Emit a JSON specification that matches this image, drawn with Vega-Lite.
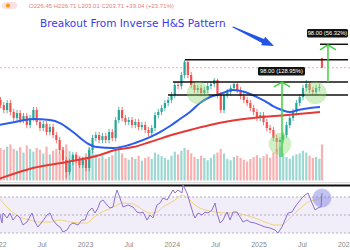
{
"$schema":"https://vega.github.io/schema/vega-lite/v6.json",
"width":350,"height":237,
"autosize":{"type":"none"},
"padding":{"left":0,"top":0,"right":0,"bottom":13},
"background":"white",
"config":{"view":{"stroke":null},
 "axisX":{"labelExpr":"datum.value % 1 == 0 ? format(datum.value, 'd') : 'Jul'","grid":false,"ticks":false,"domain":false,"labelFont":"Liberation Sans","labelFontSize":7,"labelColor":"#8a8a8a","labelPadding":3,"labelFlush":false,"labelOverlap":false,"labelBound":false,"tickCount":8}},
"datasets":{
"candles":[
{"t":2022.026,"o":142.6,"h":147.6,"l":130.2,"c":134.9,"v":72},
{"t":2022.064,"o":134.9,"h":139.6,"l":123.2,"c":127.7,"v":68},
{"t":2022.102,"o":127.7,"h":142.8,"l":123.2,"c":138.0,"v":75},
{"t":2022.140,"o":138.0,"h":142.8,"l":120.5,"c":124.9,"v":80},
{"t":2022.178,"o":124.9,"h":129.3,"l":112.8,"c":116.9,"v":70},
{"t":2022.216,"o":116.9,"h":127.8,"l":112.8,"c":123.5,"v":66},
{"t":2022.253,"o":123.5,"h":127.8,"l":110.3,"c":114.3,"v":74},
{"t":2022.291,"o":114.3,"h":123.7,"l":110.3,"c":119.5,"v":62},
{"t":2022.329,"o":119.5,"h":123.7,"l":104.4,"c":108.2,"v":78},
{"t":2022.367,"o":108.2,"h":121.0,"l":104.4,"c":116.9,"v":70},
{"t":2022.405,"o":116.9,"h":132.0,"l":112.8,"c":127.7,"v":64},
{"t":2022.443,"o":127.7,"h":132.2,"l":107.9,"c":111.8,"v":72},
{"t":2022.481,"o":111.8,"h":115.7,"l":101.0,"c":104.7,"v":68},
{"t":2022.519,"o":104.7,"h":113.2,"l":101.0,"c":109.4,"v":60},
{"t":2022.557,"o":109.4,"h":113.2,"l":96.6,"c":100.1,"v":75},
{"t":2022.595,"o":100.1,"h":109.5,"l":96.6,"c":105.8,"v":58},
{"t":2022.632,"o":105.8,"h":109.5,"l":93.5,"c":96.9,"v":66},
{"t":2022.670,"o":96.9,"h":100.3,"l":88.5,"c":91.7,"v":70},
{"t":2022.708,"o":91.7,"h":94.9,"l":79.2,"c":82.1,"v":62},
{"t":2022.746,"o":82.1,"h":85.0,"l":70.9,"c":73.5,"v":74},
{"t":2022.784,"o":73.5,"h":76.1,"l":60.2,"c":64.4,"v":80},
{"t":2022.822,"o":64.4,"h":74.4,"l":62.1,"c":71.9,"v":65},
{"t":2022.860,"o":71.9,"h":80.4,"l":69.4,"c":77.7,"v":58},
{"t":2022.898,"o":77.7,"h":80.4,"l":70.9,"c":73.5,"v":60},
{"t":2022.936,"o":73.5,"h":76.1,"l":67.2,"c":69.6,"v":55},
{"t":2022.974,"o":69.6,"h":76.1,"l":67.2,"c":73.5,"v":52},
{"t":2023.011,"o":73.5,"h":76.1,"l":64.9,"c":67.3,"v":60},
{"t":2023.049,"o":67.3,"h":85.0,"l":64.9,"c":82.1,"v":72},
{"t":2023.087,"o":82.1,"h":97.0,"l":79.2,"c":93.7,"v":66},
{"t":2023.125,"o":93.7,"h":100.3,"l":90.4,"c":96.9,"v":58},
{"t":2023.163,"o":96.9,"h":100.3,"l":88.5,"c":91.7,"v":50},
{"t":2023.201,"o":91.7,"h":99.2,"l":88.5,"c":95.8,"v":55},
{"t":2023.239,"o":95.8,"h":99.2,"l":88.5,"c":91.7,"v":48},
{"t":2023.277,"o":91.7,"h":103.6,"l":88.5,"c":100.1,"v":52},
{"t":2023.315,"o":100.1,"h":103.6,"l":90.4,"c":93.7,"v":56},
{"t":2023.353,"o":93.7,"h":118.3,"l":90.4,"c":114.3,"v":70},
{"t":2023.390,"o":114.3,"h":132.2,"l":110.3,"c":127.7,"v":75},
{"t":2023.428,"o":127.7,"h":132.2,"l":112.8,"c":116.9,"v":60},
{"t":2023.466,"o":116.9,"h":121.0,"l":107.9,"c":111.8,"v":50},
{"t":2023.504,"o":111.8,"h":118.3,"l":107.9,"c":114.3,"v":46},
{"t":2023.542,"o":114.3,"h":118.3,"l":104.4,"c":108.2,"v":52},
{"t":2023.580,"o":108.2,"h":115.7,"l":104.4,"c":111.8,"v":48},
{"t":2023.618,"o":111.8,"h":115.7,"l":102.1,"c":105.8,"v":55},
{"t":2023.656,"o":105.8,"h":112.0,"l":102.1,"c":108.2,"v":44},
{"t":2023.694,"o":108.2,"h":112.0,"l":98.8,"c":102.4,"v":50},
{"t":2023.732,"o":102.4,"h":106.0,"l":95.5,"c":99.0,"v":53},
{"t":2023.769,"o":99.0,"h":108.4,"l":95.5,"c":104.7,"v":48},
{"t":2023.807,"o":104.7,"h":125.0,"l":101.0,"c":120.8,"v":62},
{"t":2023.845,"o":120.8,"h":129.3,"l":116.6,"c":124.9,"v":58},
{"t":2023.883,"o":124.9,"h":135.2,"l":120.5,"c":130.6,"v":54},
{"t":2023.921,"o":130.6,"h":142.8,"l":126.0,"c":138.0,"v":50},
{"t":2023.959,"o":138.0,"h":147.6,"l":133.2,"c":142.6,"v":46},
{"t":2023.997,"o":142.6,"h":156.0,"l":137.6,"c":150.7,"v":55},
{"t":2024.035,"o":150.7,"h":174.2,"l":145.4,"c":168.3,"v":64},
{"t":2024.073,"o":168.3,"h":174.2,"l":160.7,"c":166.5,"v":58},
{"t":2024.111,"o":166.5,"h":194.6,"l":160.7,"c":188.0,"v":66},
{"t":2024.148,"o":188.0,"h":221.9,"l":181.4,"c":217.0,"v":72},
{"t":2024.186,"o":217.0,"h":220.0,"l":181.4,"c":188.0,"v":68},
{"t":2024.224,"o":188.0,"h":194.6,"l":162.4,"c":168.3,"v":60},
{"t":2024.262,"o":168.3,"h":174.2,"l":153.7,"c":159.3,"v":52},
{"t":2024.300,"o":159.3,"h":168.6,"l":153.7,"c":162.9,"v":48},
{"t":2024.338,"o":162.9,"h":168.6,"l":148.7,"c":154.1,"v":55},
{"t":2024.376,"o":154.1,"h":164.9,"l":148.7,"c":159.3,"v":50},
{"t":2024.414,"o":159.3,"h":172.3,"l":153.7,"c":166.5,"v":45},
{"t":2024.452,"o":166.5,"h":176.2,"l":160.7,"c":170.2,"v":50},
{"t":2024.490,"o":170.2,"h":181.9,"l":164.2,"c":177.9,"v":58},
{"t":2024.527,"o":177.9,"h":181.0,"l":145.4,"c":150.7,"v":62},
{"t":2024.565,"o":150.7,"h":156.0,"l":123.5,"c":127.7,"v":70},
{"t":2024.603,"o":127.7,"h":156.0,"l":123.2,"c":150.7,"v":60},
{"t":2024.641,"o":150.7,"h":161.3,"l":145.4,"c":155.8,"v":48},
{"t":2024.679,"o":155.8,"h":168.6,"l":150.3,"c":162.9,"v":45},
{"t":2024.717,"o":162.9,"h":174.0,"l":157.2,"c":170.2,"v":52},
{"t":2024.755,"o":170.2,"h":174.0,"l":153.7,"c":159.3,"v":55},
{"t":2024.793,"o":159.3,"h":164.9,"l":143.8,"c":149.0,"v":50},
{"t":2024.831,"o":149.0,"h":154.2,"l":137.6,"c":142.6,"v":46},
{"t":2024.869,"o":142.6,"h":147.6,"l":133.2,"c":138.0,"v":42},
{"t":2024.906,"o":138.0,"h":142.8,"l":126.0,"c":130.6,"v":48},
{"t":2024.944,"o":130.6,"h":135.2,"l":120.5,"c":124.9,"v":52},
{"t":2024.982,"o":124.9,"h":129.3,"l":112.8,"c":116.9,"v":56},
{"t":2025.020,"o":116.9,"h":125.0,"l":112.8,"c":120.8,"v":50},
{"t":2025.058,"o":120.8,"h":125.0,"l":107.9,"c":111.8,"v":54},
{"t":2025.096,"o":111.8,"h":115.7,"l":101.0,"c":104.7,"v":58},
{"t":2025.134,"o":104.7,"h":108.4,"l":98.8,"c":102.4,"v":50},
{"t":2025.172,"o":102.4,"h":106.0,"l":90.4,"c":93.7,"v":62},
{"t":2025.210,"o":93.7,"h":97.0,"l":80.0,"c":89.7,"v":70},
{"t":2025.248,"o":89.7,"h":94.9,"l":76.0,"c":91.7,"v":75},
{"t":2025.285,"o":91.7,"h":100.3,"l":88.5,"c":96.9,"v":60},
{"t":2025.323,"o":96.9,"h":112.0,"l":93.5,"c":108.2,"v":52},
{"t":2025.361,"o":108.2,"h":121.0,"l":104.4,"c":116.9,"v":48},
{"t":2025.399,"o":116.9,"h":129.3,"l":112.8,"c":124.9,"v":55},
{"t":2025.437,"o":124.9,"h":142.8,"l":120.5,"c":138.0,"v":58},
{"t":2025.475,"o":138.0,"h":152.6,"l":133.2,"c":147.4,"v":60},
{"t":2025.513,"o":147.4,"h":168.6,"l":142.2,"c":162.9,"v":66},
{"t":2025.551,"o":162.9,"h":177.9,"l":157.2,"c":170.2,"v":62},
{"t":2025.589,"o":170.2,"h":174.0,"l":153.7,"c":159.3,"v":55},
{"t":2025.627,"o":159.3,"h":164.9,"l":150.3,"c":155.8,"v":50},
{"t":2025.664,"o":155.8,"h":168.6,"l":150.3,"c":162.9,"v":52},
{"t":2025.702,"o":162.9,"h":170.4,"l":157.2,"c":164.67,"v":48},
{"t":2025.732,"o":226.45,"h":226.71,"l":203.01,"c":203.71,"v":80}
],
"ma50":[{"t":2022.0,"p":108.2},{"t":2022.193,"p":111.8},{"t":2022.401,"p":115.6},{"t":2022.597,"p":114.3},{"t":2022.712,"p":110.6},{"t":2022.862,"p":100.1},{"t":2023.023,"p":88.7},{"t":2023.138,"p":84.8},{"t":2023.323,"p":83.9},{"t":2023.461,"p":85.7},{"t":2023.576,"p":88.7},{"t":2023.749,"p":94.7},{"t":2023.865,"p":100.1},{"t":2023.980,"p":107.0},{"t":2024.095,"p":115.6},{"t":2024.210,"p":124.9},{"t":2024.326,"p":138.0},{"t":2024.441,"p":147.4},{"t":2024.556,"p":152.4},{"t":2024.706,"p":159.3},{"t":2024.844,"p":155.8},{"t":2024.983,"p":147.4},{"t":2025.075,"p":141.0},{"t":2025.167,"p":133.4},{"t":2025.271,"p":127.7},{"t":2025.363,"p":124.9},{"t":2025.455,"p":127.7},{"t":2025.594,"p":130.6},{"t":2025.709,"p":132.0}],
"ma200":[{"t":2022.0,"p":59.5},{"t":2022.401,"p":67.3},{"t":2022.792,"p":71.9},{"t":2023.173,"p":77.7},{"t":2023.346,"p":82.1},{"t":2023.553,"p":84.8},{"t":2023.749,"p":89.7},{"t":2024.038,"p":97.9},{"t":2024.210,"p":102.4},{"t":2024.441,"p":108.2},{"t":2024.672,"p":113.0},{"t":2024.937,"p":116.9},{"t":2025.329,"p":120.8},{"t":2025.709,"p":124.9}],
"rsi":[{"t":2022.0,"r":57.8},{"t":2022.043,"r":41.1},{"t":2022.055,"r":52.2},{"t":2022.101,"r":46.7},{"t":2022.135,"r":52.2},{"t":2022.170,"r":44.4},{"t":2022.216,"r":50},{"t":2022.251,"r":46.7},{"t":2022.285,"r":38.9},{"t":2022.331,"r":42.2},{"t":2022.389,"r":52.2},{"t":2022.424,"r":42.2},{"t":2022.458,"r":36.7},{"t":2022.504,"r":42.2},{"t":2022.562,"r":50},{"t":2022.597,"r":52.2},{"t":2022.631,"r":44.4},{"t":2022.677,"r":38.9},{"t":2022.712,"r":36.7},{"t":2022.746,"r":31.1},{"t":2022.792,"r":33.3},{"t":2022.827,"r":38.9},{"t":2022.862,"r":41.1},{"t":2022.919,"r":38.9},{"t":2022.965,"r":44.4},{"t":2023.000,"r":44.4},{"t":2023.035,"r":53.3},{"t":2023.081,"r":57.8},{"t":2023.115,"r":52.2},{"t":2023.150,"r":57.8},{"t":2023.173,"r":64.4},{"t":2023.207,"r":66.7},{"t":2023.254,"r":61.1},{"t":2023.288,"r":57.8},{"t":2023.323,"r":58.9},{"t":2023.346,"r":70},{"t":2023.369,"r":77.8},{"t":2023.403,"r":68.9},{"t":2023.438,"r":58.9},{"t":2023.496,"r":61.1},{"t":2023.553,"r":58.9},{"t":2023.599,"r":53.3},{"t":2023.634,"r":52.2},{"t":2023.669,"r":53.3},{"t":2023.715,"r":44.4},{"t":2023.750,"r":50},{"t":2023.784,"r":46.7},{"t":2023.830,"r":61.1},{"t":2023.865,"r":63.3},{"t":2023.899,"r":68.9},{"t":2023.946,"r":66.7},{"t":2023.980,"r":72.2},{"t":2024.015,"r":77.8},{"t":2024.038,"r":74.4},{"t":2024.072,"r":77.8},{"t":2024.118,"r":74.4},{"t":2024.130,"r":83.3},{"t":2024.176,"r":74.4},{"t":2024.210,"r":63.3},{"t":2024.245,"r":52.2},{"t":2024.268,"r":46.7},{"t":2024.303,"r":52.2},{"t":2024.349,"r":50},{"t":2024.384,"r":53.3},{"t":2024.418,"r":52.2},{"t":2024.464,"r":55.6},{"t":2024.499,"r":63.3},{"t":2024.522,"r":52.2},{"t":2024.557,"r":41.1},{"t":2024.591,"r":44.4},{"t":2024.637,"r":53.3},{"t":2024.672,"r":44.4},{"t":2024.706,"r":53.3},{"t":2024.752,"r":53.3},{"t":2024.787,"r":47.8},{"t":2024.821,"r":42.2},{"t":2024.867,"r":44.4},{"t":2024.902,"r":42.2},{"t":2024.959,"r":41.1},{"t":2025.017,"r":38.9},{"t":2025.074,"r":36.7},{"t":2025.132,"r":35.6},{"t":2025.190,"r":33.3},{"t":2025.225,"r":30},{"t":2025.271,"r":36.7},{"t":2025.305,"r":44.4},{"t":2025.340,"r":52.2},{"t":2025.386,"r":53.3},{"t":2025.421,"r":58.9},{"t":2025.455,"r":63.3},{"t":2025.501,"r":68.9},{"t":2025.536,"r":72.2},{"t":2025.571,"r":74.4},{"t":2025.617,"r":63.3},{"t":2025.652,"r":55.6},{"t":2025.686,"r":57.8},{"t":2025.709,"r":58.9},{"t":2025.721,"r":58.9},{"t":2025.732,"r":74.4}],
"rsima":[{"t":2022.0,"r":70},{"t":2022.135,"r":55.6},{"t":2022.251,"r":47.8},{"t":2022.366,"r":44.4},{"t":2022.481,"r":42.2},{"t":2022.597,"r":42.2},{"t":2022.712,"r":44.4},{"t":2022.827,"r":42.2},{"t":2022.942,"r":41.1},{"t":2023.023,"r":41.1},{"t":2023.092,"r":46.7},{"t":2023.173,"r":52.2},{"t":2023.254,"r":55.6},{"t":2023.323,"r":58.9},{"t":2023.438,"r":63.3},{"t":2023.553,"r":62.2},{"t":2023.669,"r":55.6},{"t":2023.750,"r":52.2},{"t":2023.830,"r":53.3},{"t":2023.899,"r":58.9},{"t":2023.980,"r":63.3},{"t":2024.038,"r":66.7},{"t":2024.118,"r":72.2},{"t":2024.187,"r":68.9},{"t":2024.268,"r":61.1},{"t":2024.384,"r":55.6},{"t":2024.499,"r":53.3},{"t":2024.614,"r":52.2},{"t":2024.729,"r":52.2},{"t":2024.844,"r":50},{"t":2024.959,"r":46.7},{"t":2025.074,"r":42.2},{"t":2025.190,"r":38.9},{"t":2025.271,"r":38.9},{"t":2025.340,"r":44.4},{"t":2025.421,"r":52.2},{"t":2025.501,"r":58.9},{"t":2025.571,"r":64.4},{"t":2025.652,"r":66.7},{"t":2025.732,"r":68.9}],
"levels":[{"t":2024.153,"t2":2026.032,"p":222.5},{"t":2024.014,"t2":2026.032,"p":174},{"t":2023.957,"t2":2026.032,"p":150.7},{"t":2025.709,"t2":2026.032,"p":264}],
"arrows":[{"t":2025.271,"p":76.0,"p2":174},{"t":2025.801,"p":174,"p2":262}],
"boxes":[{"t":2024.994,"t2":2025.536,"p":187.0,"p2":205.4,"tc":2025.265,"pc":196.2,"label":"98.00 (128.95%)"},{"t":2025.559,"t2":2026.032,"p":284.5,"p2":312.6,"tc":2025.795,"pc":298.2,"label":"98.00 (56.32%)"}],
"circles":[{"t":2024.303,"p":154.1},{"t":2025.657,"p":154.1},{"t":2025.248,"p":87.7}],
"bluearrow":[{"t":2024.706,"p":319.5,"w":0},{"t":2024.879,"p":295.7,"w":1},{"t":2025.052,"p":273.7,"w":2}]
},
"layer":[
{"data":{"values":[{"t":2022,"t2":2026.055,"r":70,"r2":30}]},
 "mark":{"type":"rect","color":"#7e57c2","opacity":0.1},
 "encoding":{
  "x":{"field":"t","type":"quantitative","title":null,"scale":{"domain":[2022,2026.055],"range":[-1.75,350],"nice":false,"zero":false}},
  "x2":{"field":"t2"},
  "y":{"field":"r","type":"quantitative","scale":{"domain":[25.56,288.9],"nice":false,"zero":false},"axis":null},
  "y2":{"field":"r2"}}},
{"data":{"values":[{"r":70},{"r":50},{"r":30}]},
 "mark":{"type":"rule","color":"#b3abc9","strokeWidth":1,"strokeDash":[2,2]},
 "encoding":{"y":{"field":"r","type":"quantitative","scale":{"domain":[25.56,288.9],"nice":false,"zero":false},"axis":null}}},
{"data":{"values":[{"r":85.9}]},
 "mark":{"type":"rule","color":"#d6d6d6","strokeWidth":1},
 "encoding":{"y":{"field":"r","type":"quantitative","scale":{"domain":[25.56,288.9],"nice":false,"zero":false},"axis":null}}},
{"data":{"values":[{"r":82.78}]},
 "mark":{"type":"rule","color":"#111111","strokeWidth":2},
 "encoding":{"y":{"field":"r","type":"quantitative","scale":{"domain":[25.56,288.9],"nice":false,"zero":false},"axis":null}}},
{"data":{"values":[{"p":203.71}]},
 "mark":{"type":"rule","color":"#eab0b0","strokeWidth":1,"strokeDash":[2,2]},
 "encoding":{"y":{"field":"p","type":"quantitative","scale":{"type":"log","domain":[31.4,430.6],"nice":false},"axis":null}}},
{"data":{"name":"candles"},
 "mark":{"type":"rule","strokeWidth":2.2,"opacity":0.45},
 "encoding":{
  "x":{"field":"t","type":"quantitative","title":null,"scale":{"domain":[2022,2026.055],"range":[-1.75,350],"nice":false,"zero":false}},
  "y":{"field":"v","type":"quantitative","scale":{"domain":[-125.3,400.2],"nice":false,"zero":false},"axis":null},
  "y2":{"datum":0},
  "color":{"condition":{"test":"datum.c >= datum.o","value":"#26a69a"},"value":"#ef5350"}}},
{"data":{"name":"candles"},
 "mark":{"type":"rule","strokeWidth":0.8},
 "encoding":{
  "x":{"field":"t","type":"quantitative","title":null,"scale":{"domain":[2022,2026.055],"range":[-1.75,350],"nice":false,"zero":false}},
  "y":{"field":"h","type":"quantitative","scale":{"type":"log","domain":[31.4,430.6],"nice":false},"axis":null},
  "y2":{"field":"l"},
  "color":{"condition":{"test":"datum.c >= datum.o","value":"#26a69a"},"value":"#ef5350"}}},
{"data":{"name":"candles"},
 "mark":{"type":"rule","strokeWidth":2.2},
 "encoding":{
  "x":{"field":"t","type":"quantitative","title":null,"scale":{"domain":[2022,2026.055],"range":[-1.75,350],"nice":false,"zero":false}},
  "y":{"field":"o","type":"quantitative","scale":{"type":"log","domain":[31.4,430.6],"nice":false},"axis":null},
  "y2":{"field":"c"},
  "color":{"condition":{"test":"datum.c >= datum.o","value":"#26a69a"},"value":"#ef5350"}}},
{"data":{"name":"ma200"},
 "mark":{"type":"line","color":"#e53935","strokeWidth":2,"interpolate":"monotone"},
 "encoding":{
  "x":{"field":"t","type":"quantitative","title":null,"scale":{"domain":[2022,2026.055],"range":[-1.75,350],"nice":false,"zero":false}},
  "y":{"field":"p","type":"quantitative","scale":{"type":"log","domain":[31.4,430.6],"nice":false},"axis":null}}},
{"data":{"name":"ma50"},
 "mark":{"type":"line","color":"#2a5cf0","strokeWidth":2,"interpolate":"monotone"},
 "encoding":{
  "x":{"field":"t","type":"quantitative","title":null,"scale":{"domain":[2022,2026.055],"range":[-1.75,350],"nice":false,"zero":false}},
  "y":{"field":"p","type":"quantitative","scale":{"type":"log","domain":[31.4,430.6],"nice":false},"axis":null}}},
{"data":{"name":"levels"},
 "mark":{"type":"rule","color":"#111111","strokeWidth":1.5},
 "encoding":{
  "x":{"field":"t","type":"quantitative","title":null,"scale":{"domain":[2022,2026.055],"range":[-1.75,350],"nice":false,"zero":false}},
  "x2":{"field":"t2"},
  "y":{"field":"p","type":"quantitative","scale":{"type":"log","domain":[31.4,430.6],"nice":false},"axis":null}}},
{"data":{"name":"circles"},
 "mark":{"type":"point","shape":"circle","size":460,"filled":true,"color":"#8fdc6f","opacity":0.4,"stroke":"#7fd05f","strokeWidth":1,"strokeOpacity":0.9},
 "encoding":{
  "x":{"field":"t","type":"quantitative","title":null,"scale":{"domain":[2022,2026.055],"range":[-1.75,350],"nice":false,"zero":false}},
  "y":{"field":"p","type":"quantitative","scale":{"type":"log","domain":[31.4,430.6],"nice":false},"axis":null}}},
{"data":{"name":"arrows"},
 "mark":{"type":"rule","color":"#3fd13f","strokeWidth":1.5},
 "encoding":{
  "x":{"field":"t","type":"quantitative","title":null,"scale":{"domain":[2022,2026.055],"range":[-1.75,350],"nice":false,"zero":false}},
  "y":{"field":"p","type":"quantitative","scale":{"type":"log","domain":[31.4,430.6],"nice":false},"axis":null},
  "y2":{"field":"p2"}}},
{"data":{"name":"arrows"},
 "mark":{"type":"point","shape":"M-1,0.6L0,0L1,0.6","size":256,"filled":false,"color":"#3fd13f","strokeWidth":1.5,"opacity":1},
 "encoding":{
  "x":{"field":"t","type":"quantitative","title":null,"scale":{"domain":[2022,2026.055],"range":[-1.75,350],"nice":false,"zero":false}},
  "y":{"field":"p2","type":"quantitative","scale":{"type":"log","domain":[31.4,430.6],"nice":false},"axis":null}}},
{"data":{"name":"boxes"},
 "mark":{"type":"rect","color":"#131313","cornerRadius":1.5},
 "encoding":{
  "x":{"field":"t","type":"quantitative","title":null,"scale":{"domain":[2022,2026.055],"range":[-1.75,350],"nice":false,"zero":false}},
  "x2":{"field":"t2"},
  "y":{"field":"p","type":"quantitative","scale":{"type":"log","domain":[31.4,430.6],"nice":false},"axis":null},
  "y2":{"field":"p2"}}},
{"data":{"name":"boxes"},
 "mark":{"type":"text","color":"white","font":"Liberation Sans","fontSize":5.8,"align":"center","baseline":"middle"},
 "encoding":{
  "x":{"field":"tc","type":"quantitative","title":null,"scale":{"domain":[2022,2026.055],"range":[-1.75,350],"nice":false,"zero":false}},
  "y":{"field":"pc","type":"quantitative","scale":{"type":"log","domain":[31.4,430.6],"nice":false},"axis":null},
  "text":{"field":"label"}}},
{"data":{"name":"rsima"},
 "mark":{"type":"line","color":"#f3d27a","strokeWidth":1,"interpolate":"monotone"},
 "encoding":{
  "x":{"field":"t","type":"quantitative","title":null,"scale":{"domain":[2022,2026.055],"range":[-1.75,350],"nice":false,"zero":false}},
  "y":{"field":"r","type":"quantitative","scale":{"domain":[25.56,288.9],"nice":false,"zero":false},"axis":null}}},
{"data":{"name":"rsi"},
 "mark":{"type":"line","color":"#8c6fd1","strokeWidth":1},
 "encoding":{
  "x":{"field":"t","type":"quantitative","title":null,"scale":{"domain":[2022,2026.055],"range":[-1.75,350],"nice":false,"zero":false}},
  "y":{"field":"r","type":"quantitative","scale":{"domain":[25.56,288.9],"nice":false,"zero":false},"axis":null}}},
{"data":{"values":[{"t":2025.732,"r":68.9}]},
 "mark":{"type":"point","shape":"circle","size":330,"filled":true,"color":"#6a6ae0","opacity":0.4,"stroke":"#6a6ae0","strokeWidth":1,"strokeOpacity":0.9},
 "encoding":{
  "x":{"field":"t","type":"quantitative","title":null,"scale":{"domain":[2022,2026.055],"range":[-1.75,350],"nice":false,"zero":false}},
  "y":{"field":"r","type":"quantitative","scale":{"domain":[25.56,288.9],"nice":false,"zero":false},"axis":null}}},
{"data":{"name":"bluearrow"},
 "mark":{"type":"trail","color":"#2454e6"},
 "encoding":{
  "x":{"field":"t","type":"quantitative","title":null,"scale":{"domain":[2022,2026.055],"range":[-1.75,350],"nice":false,"zero":false}},
  "y":{"field":"p","type":"quantitative","scale":{"type":"log","domain":[31.4,430.6],"nice":false},"axis":null},
  "size":{"field":"w","type":"quantitative","scale":{"range":[1,4.5]},"legend":null}}},
{"data":{"values":[{"t":2025.116,"p":266.2}]},
 "mark":{"type":"point","shape":"M1,0L-1,-0.8L-1,0.8Z","size":144,"filled":true,"color":"#2454e6","opacity":1,"angle":25},
 "encoding":{
  "x":{"field":"t","type":"quantitative","title":null,"scale":{"domain":[2022,2026.055],"range":[-1.75,350],"nice":false,"zero":false}},
  "y":{"field":"p","type":"quantitative","scale":{"type":"log","domain":[31.4,430.6],"nice":false},"axis":null}}},
{"data":{"values":[{"t":2022.481,"p":330.2,"label":"Breakout From Inverse H&S Pattern"}]},
 "mark":{"type":"text","color":"#3a3aea","font":"DejaVu Sans","fontSize":10.5,"align":"left","baseline":"middle"},
 "encoding":{
  "x":{"field":"t","type":"quantitative","title":null,"scale":{"domain":[2022,2026.055],"range":[-1.75,350],"nice":false,"zero":false}},
  "y":{"field":"p","type":"quantitative","scale":{"type":"log","domain":[31.4,430.6],"nice":false},"axis":null},
  "text":{"field":"label"}}},
{"data":{"values":[{"t":2022.043,"t2":2022.216,"p":389.9,"p2":421.2}]},
 "mark":{"type":"rect","color":"#fbe1e1","cornerRadius":3},
 "encoding":{
  "x":{"field":"t","type":"quantitative","title":null,"scale":{"domain":[2022,2026.055],"range":[-1.75,350],"nice":false,"zero":false}},
  "x2":{"field":"t2"},
  "y":{"field":"p","type":"quantitative","scale":{"type":"log","domain":[31.4,430.6],"nice":false},"axis":null},
  "y2":{"field":"p2"}}},
{"data":{"values":[{"t":2022.112,"p":405.0}]},
 "mark":{"type":"point","shape":"circle","size":18,"filled":true,"color":"#f39c12","opacity":1},
 "encoding":{
  "x":{"field":"t","type":"quantitative","title":null,"scale":{"domain":[2022,2026.055],"range":[-1.75,350],"nice":false,"zero":false}},
  "y":{"field":"p","type":"quantitative","scale":{"type":"log","domain":[31.4,430.6],"nice":false},"axis":null}}},
{"data":{"values":[{"t":2022.355,"p":402.9,"label":"O226.45 H226.71 L203.01 C203.71 +39.04 (+23.71%)"}]},
 "mark":{"type":"text","color":"#e48080","font":"Liberation Sans","fontSize":6,"align":"left","baseline":"middle"},
 "encoding":{
  "x":{"field":"t","type":"quantitative","title":null,"scale":{"domain":[2022,2026.055],"range":[-1.75,350],"nice":false,"zero":false}},
  "y":{"field":"p","type":"quantitative","scale":{"type":"log","domain":[31.4,430.6],"nice":false},"axis":null},
  "text":{"field":"label"}}}
],
"resolve":{"scale":{"y":"independent"}}
}
